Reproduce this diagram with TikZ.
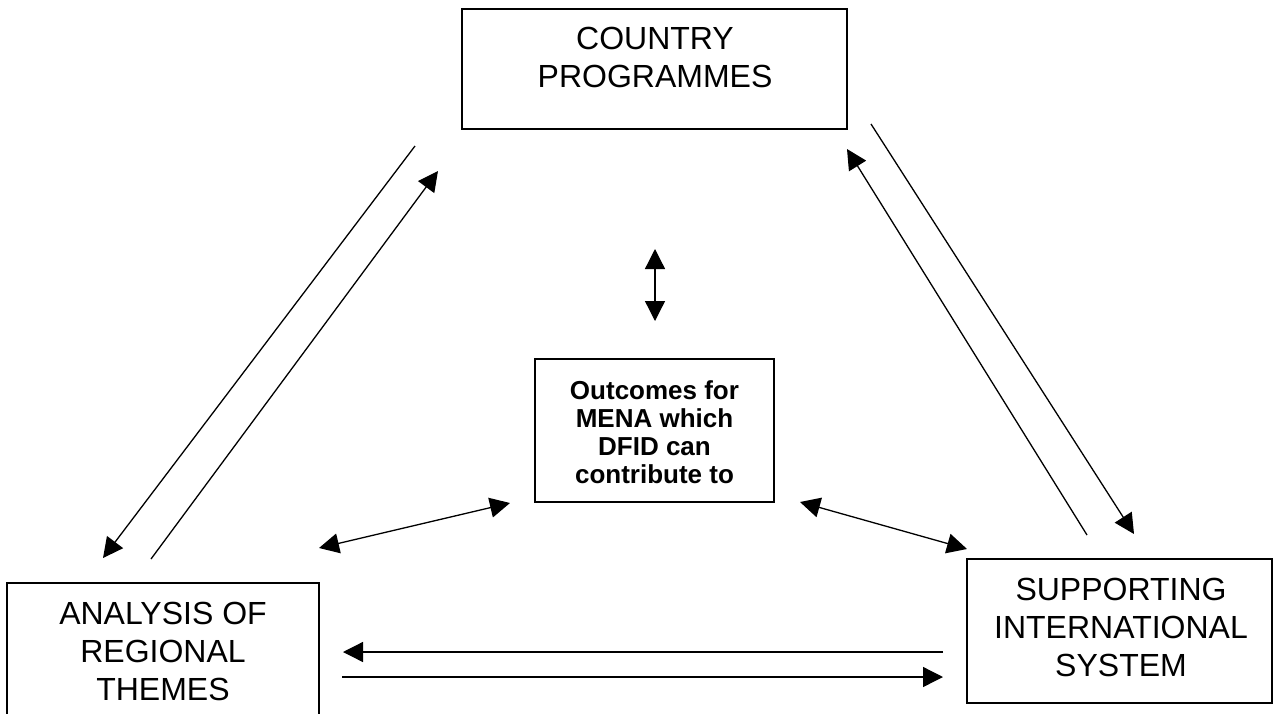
\documentclass[tikz,border=0pt]{standalone}
\usepackage{fontspec}
\setmainfont{Liberation Sans}
\usetikzlibrary{arrows.meta}
\begin{document}
\begin{tikzpicture}[x=1pt,y=-1pt,
  box/.style={draw, line width=1.5pt, inner sep=0pt},
  bigtext/.style={inner sep=0pt, anchor=north, align=center, font=\fontsize{32}{38}\selectfont},
  smalltext/.style={inner sep=0pt, anchor=north, align=center, font=\fontsize{26}{28}\selectfont\bfseries},
  tip/.tip={Triangle[length=20pt,width=20pt]},
  conn/.style={line width=1.3pt, -tip},
  dconn/.style={line width=1.3pt, tip-tip}]
\useasboundingbox (0,0) rectangle (1278,713);
\clip (0,0) rectangle (1278,713);
\fill[white] (0,0) rectangle (1278,713);
% boxes
\node[box, minimum width=385pt, minimum height=120pt] (cp) at (654.5,69) {};
\node[box, minimum width=239pt, minimum height=143pt] (oc) at (654.5,430.5) {};
\node[box, minimum width=312pt, minimum height=157pt] (ar) at (163,661.5) {};
\node[box, minimum width=305pt, minimum height=144pt] (si) at (1119.5,631) {};
% texts
\node[bigtext] (cpt) at (655,27) {COUNTRY\\PROGRAMMES};
\node[bigtext] (art) at (163,602) {ANALYSIS OF\\REGIONAL\\THEMES};
\node[bigtext] (sit) at (1121,578) {SUPPORTING\\INTERNATIONAL\\SYSTEM};
\node[smalltext] (ot) at (654.5,380) {Outcomes for\\MENA which\\DFID can\\contribute to};
% connector end points
\coordinate (a1) at (415,146); \coordinate (a2) at (103,558);
\coordinate (b1) at (151,559); \coordinate (b2) at (438,171);
\coordinate (c1) at (1087,535); \coordinate (c2) at (847,149);
\coordinate (d1) at (871,124); \coordinate (d2) at (1134,534);
\coordinate (v1) at (655,249); \coordinate (v2) at (655,321);
\coordinate (l1) at (319,548); \coordinate (l2) at (510,503);
\coordinate (r1) at (800,502); \coordinate (r2) at (967,549);
\coordinate (h1) at (943,652); \coordinate (h2) at (343,652);
\coordinate (h3) at (342,677); \coordinate (h4) at (943,677);
% connectors
\draw[conn] (a1) -- (a2);
\draw[conn] (b1) -- (b2);
\draw[conn] (c1) -- (c2);
\draw[conn] (d1) -- (d2);
\draw[dconn] (v1) -- (v2);
\draw[dconn] (l1) -- (l2);
\draw[dconn] (r1) -- (r2);
\draw[conn] (h1) -- (h2);
\draw[conn] (h3) -- (h4);
\end{tikzpicture}
\end{document}
